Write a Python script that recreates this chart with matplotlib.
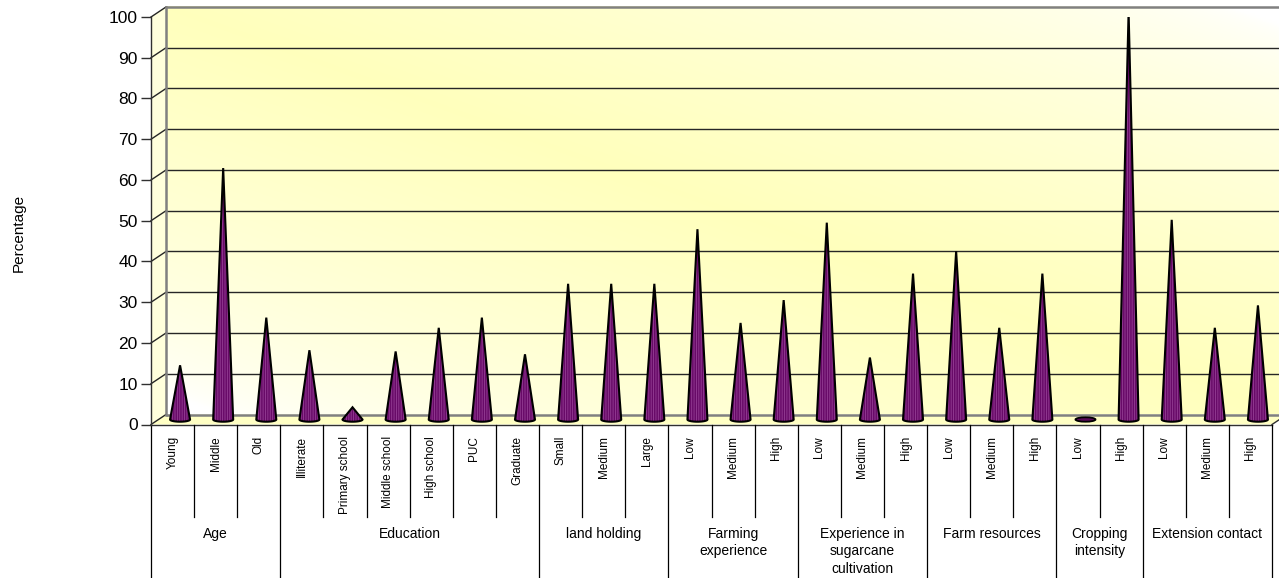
import numpy as np
import matplotlib
matplotlib.use("Agg")
import matplotlib.pyplot as plt
from matplotlib.patches import Polygon, Ellipse

# ---- data -------------------------------------------------------------
groups = ["Age", "Education", "land holding", "Farming\nexperience",
          "Experience in\nsugarcane\ncultivation", "Farm resources",
          "Cropping\nintensity", "Extension contact"]
group_items = [
    ["Young", "Middle", "Old"],
    ["Illiterate", "Primary school", "Middle school", "High school", "PUC", "Graduate"],
    ["Small", "Medium", "Large"],
    ["Low", "Medium", "High"],
    ["Low", "Medium", "High"],
    ["Low", "Medium", "High"],
    ["Low", "High"],
    ["Low", "Medium", "High"],
]
percent = [13.3, 61.7, 25.0,
           17.0, 3.0, 16.7, 22.5, 25.0, 16.0,
           33.3, 33.3, 33.3,
           46.7, 23.7, 29.3,
           48.3, 15.2, 35.8,
           41.3, 22.5, 35.8,
           0.0, 100.0,
           49.0, 22.5, 28.0]
yticks = list(range(0, 101, 10))

# ---- figure geometry --------------------------------------------------
W, H = 1279, 578
fig = plt.figure(figsize=(W / 100, H / 100), dpi=100)
plt.rcParams['hatch.linewidth'] = 0.6
FONT = "Liberation Sans"

px_per_unit = (424.5 - 17) / 100.0
ybottom = -(578 - 424.5) / px_per_unit
ax = fig.add_axes([151 / W, 0, 1121 / W, 1 - 17 / H])
n = len(percent)
ax.set_xlim(0, n)
ax.set_ylim(ybottom, 100)
ax.patch.set_visible(False)
for s in ("top", "right", "bottom"):
    ax.spines[s].set_visible(False)
ax.spines["left"].set_bounds(0, 100)
ax.spines["left"].set_color("#303030")
ax.spines["left"].set_linewidth(1.0)
ax.set_xticks([])
ax.set_yticks(yticks)
ax.set_yticklabels([str(v) for v in yticks], fontsize=12.5, family=FONT)
ax.tick_params(axis="y", length=7.2, width=1.0, color="#303030", pad=2.5)

def ypx(py):
    return (424.5 - py) / px_per_unit

dx = 15 / (1121 / n)      # depth offset, category units
dy = 10 / px_per_unit     # depth offset, value units

# ---- back wall with soft diagonal gradient ----------------------------
gh, gw = 200, 400
u = np.linspace(0, 1, gw)[None, :]
v = np.linspace(0, 1, gh)[:, None]
s = u - v
a = np.clip(1 - np.abs(s) / 0.95, 0, 1) ** 0.6
yellow = np.array([1.0, 1.0, 0.74])
img = np.ones((gh, gw, 3)) * (1 - a[..., None]) + yellow * a[..., None]
ax.imshow(img, extent=(dx, n + dx, dy, 100 + dy), origin="upper",
          aspect="auto", zorder=0, clip_on=False, interpolation="bilinear")
ax.set_xlim(0, n)
ax.set_ylim(ybottom, 100)

# side wall
ax.add_patch(Polygon([(0, 0), (dx, dy), (dx, 100 + dy), (0, 100)], closed=True,
                     facecolor="#FFFFDC", edgecolor="none", zorder=0.5, clip_on=False))
# floor
ax.add_patch(Polygon([(0, 0), (n, 0), (n + dx, dy), (dx, dy)], closed=True,
                     facecolor="#FFFFC4", edgecolor="none", zorder=0.5, clip_on=False))

# gridlines on back wall and side wall
for t in yticks:
    col = "#808080" if t in (0, 100) else "#262626"
    lw = 1.8 if t in (0, 100) else 1.0
    ax.plot([dx, n + dx], [t + dy, t + dy], color=col, lw=lw, zorder=1, clip_on=False,
            solid_capstyle="butt")
    ax.plot([0, dx], [t, t + dy], color="#262626", lw=1.0, zorder=1, clip_on=False)
ax.plot([dx, dx], [dy, 100 + dy], color="#808080", lw=1.8, zorder=1, clip_on=False)
ax.plot([0, n], [0, 0], color="#303030", lw=1.0, zorder=1, clip_on=False)
ax.plot([n, n + dx], [0, dy], color="#303030", lw=1.0, zorder=1, clip_on=False)

# ---- cones -------------------------------------------------------------
hw = 10 / (1121 / n)
ry = 2.2 / px_per_unit
ybase = dy / 2
for i, val in enumerate(percent):
    xc = i + 0.5 + dx / 2
    if val <= 0:
        ax.add_patch(Ellipse((xc, ybase), 2 * hw, 2 * ry, facecolor="#5A0A5A",
                             edgecolor="black", lw=1.3, zorder=3))
        continue
    th = np.linspace(0, -np.pi, 40)
    ex = xc + hw * np.cos(th)
    ey = ybase + ry * np.sin(th)
    verts = [(xc - hw, ybase), (xc, ybase + val)] + list(zip(ex, ey))
    ax.add_patch(Polygon(verts, closed=True, facecolor="#680A68", edgecolor="#953F95",
                         hatch="|" * 7, lw=0, zorder=3))
    ax.add_patch(Polygon(verts, closed=True, fill=False, edgecolor="black",
                         lw=1.5, joinstyle="miter", zorder=4))

# ---- category / group labels ------------------------------------------
y_inner = ypx(517)
idx = 0
for g, items in zip(groups, group_items):
    start = idx
    for j, lab in enumerate(items):
        ax.text(idx + 0.5, ypx(436), lab, rotation=90, ha="center", va="top",
                fontsize=8.5, family=FONT)
        if j > 0:
            ax.plot([idx, idx], [0, y_inner], color="black", lw=0.9, clip_on=False)
        idx += 1
    ax.plot([start, start], [0, ybottom], color="black", lw=0.9, clip_on=False)
    ax.text((start + idx) / 2, ypx(527), g, ha="center", va="top",
            fontsize=10, family=FONT, linespacing=1.3)
ax.plot([idx, idx], [0, ybottom], color="black", lw=0.9, clip_on=False)

fig.text(19 / W, 1 - 233 / H, "Percentage", rotation=90, ha="center", va="center",
         fontsize=11, family=FONT)

fig.savefig("out.png", dpi=100)
